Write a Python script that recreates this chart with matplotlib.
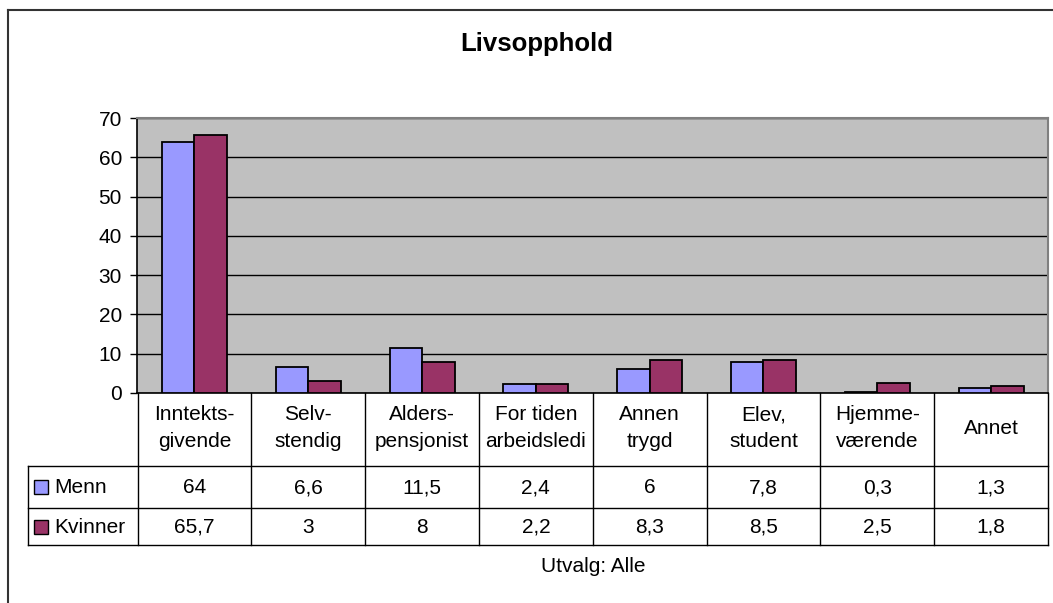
import matplotlib
matplotlib.use("Agg")
import matplotlib.pyplot as plt
from matplotlib.lines import Line2D
from matplotlib.patches import Rectangle
import numpy as np

plt.rcParams['font.family'] = ['Liberation Sans', 'DejaVu Sans']

title = "Livsopphold"
categories = ["Inntekts-\ngivende", "Selv-\nstendig", "Alders-\npensjonist",
              "For tiden\narbeidsledi", "Annen\ntrygd", "Elev,\nstudent",
              "Hjemme-\nværende", "Annet"]
series_names = ["Menn", "Kvinner"]
menn = [64, 6.6, 11.5, 2.4, 6, 7.8, 0.3, 1.3]
kvinner = [65.7, 3, 8, 2.2, 8.3, 8.5, 2.5, 1.8]
menn_labels = ["64", "6,6", "11,5", "2,4", "6", "7,8", "0,3", "1,3"]
kvinner_labels = ["65,7", "3", "8", "2,2", "8,3", "8,5", "2,5", "1,8"]
yticks = [0, 10, 20, 30, 40, 50, 60, 70]
footnote = "Utvalg: Alle"

colors = ["#9999FF", "#993366"]
FS = 15

W, H = 1053, 603
fig = plt.figure(figsize=(W / 100, H / 100), dpi=100)

# plot area in pixels
pl, pr, pt, pb = 137.5, 1048, 118, 393
ax = fig.add_axes([pl / W, 1 - pb / H, (pr - pl) / W, (pb - pt) / H])
ax.set_facecolor("#C0C0C0")
n = len(categories)
x = np.arange(n)
bw = 1 / 3.5
ax.bar(x - bw / 2, menn, bw, color=colors[0], edgecolor="black", linewidth=1.3, zorder=3)
ax.bar(x + bw / 2, kvinner, bw, color=colors[1], edgecolor="black", linewidth=1.3, zorder=3)
ax.set_xlim(-0.5, n - 0.5)
ax.set_ylim(0, 70)
ax.set_yticks(yticks)
ax.set_yticklabels([str(t) for t in yticks], fontsize=FS)
ax.tick_params(axis="y", direction="out", length=4.7, width=1, pad=6.5, colors="black")
ax.set_xticks([])
ax.yaxis.grid(True, color="black", linewidth=1, zorder=1)
ax.set_axisbelow(True)
ax.spines["left"].set_color("black")
ax.spines["bottom"].set_color("black")
ax.spines["left"].set_linewidth(1.2)
ax.spines["bottom"].set_linewidth(1.2)
for s in ("top", "right"):
    ax.spines[s].set_color("#808080")
    ax.spines[s].set_linewidth(1.5)

# overlay in pixel coordinates
ov = fig.add_axes([0, 0, 1, 1], facecolor="none")
ov.set_xlim(0, W)
ov.set_ylim(H, 0)
ov.axis("off")

def line(x0, y0, x1, y1, c="black", lw=1.0):
    ov.add_line(Line2D([x0, x1], [y0, y1], color=c, linewidth=lw))

# chart border (top and left visible)
line(8, 10, W, 10, c="#333333", lw=1.5)
line(8, 10, 8, H, c="#333333", lw=1.5)

# title
ov.text(537, 44, title, ha="center", va="center", fontsize=18.5, fontweight="bold")

# data table
cw = (pr - pl) / n
r0, r1, r2, r3 = pb, 465.7, 507.7, 545
lx = 27.7
for i in range(n + 1):
    xx = pl + i * cw
    line(xx, r0, xx, r3)
line(lx, r1, pr, r1)
line(lx, r2, pr, r2)
line(lx, r3, pr, r3)
line(lx, r1, lx, r3)

for i, cat in enumerate(categories):
    cx = pl + (i + 0.5) * cw
    ov.text(cx, (r0 + r1) / 2 - 1, cat, ha="center", va="center", fontsize=FS,
            linespacing=1.55)
    ov.text(cx, (r1 + r2) / 2 + 1, menn_labels[i], ha="center", va="center", fontsize=FS)
    ov.text(cx, (r2 + r3) / 2 + 1, kvinner_labels[i], ha="center", va="center", fontsize=FS)

for j, (name, col) in enumerate(zip(series_names, colors)):
    yc = [(r1 + r2) / 2, (r2 + r3) / 2][j]
    ov.add_patch(Rectangle((33.5, yc - 6.5), 14, 14, facecolor=col, edgecolor="black", linewidth=1))
    ov.text(54, yc + 1, name, ha="left", va="center", fontsize=FS)

ov.text(593, 566, footnote, ha="center", va="center", fontsize=FS)

fig.savefig("out.png", dpi=100)
